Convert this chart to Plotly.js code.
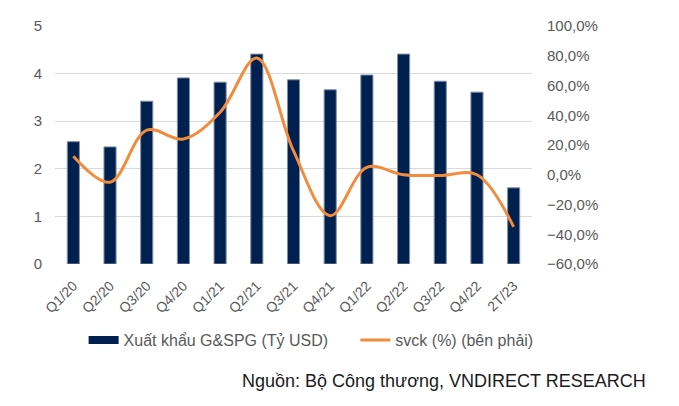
<!DOCTYPE html>
<html>
<head>
<meta charset="utf-8">
<script src="https://cdn.plot.ly/plotly-3.0.1.min.js"></script>
<style>
  html, body { margin: 0; padding: 0; background: #fff; }
  #chart { width: 679px; height: 406px; }
</style>
</head>
<body>
<div id="chart"></div>
<script>
const quarters = ['Q1/20', 'Q2/20', 'Q3/20', 'Q4/20', 'Q1/21', 'Q2/21', 'Q3/21', 'Q4/21', 'Q1/22', 'Q2/22', 'Q3/22', 'Q4/22', '2T/23'];
const exportsBn = [2.57, 2.46, 3.42, 3.91, 3.82, 4.41, 3.87, 3.66, 3.97, 4.41, 3.84, 3.61, 1.60];
const yoyPct = [12.5, -5, 30, 24, 42, 78.5, 16, -27.5, 5, 0, -0.5, 0, -35];

const fontFamily = 'Liberation Sans, Arial, sans-serif';
const axisFont = { family: fontFamily, size: 15, color: '#595959' };
const barColor = '#002050';
const lineColor = '#f28c3c';

Plotly.newPlot(
  'chart',
  [
    {
      type: 'bar',
      x: quarters,
      y: exportsBn,
      name: 'Xuất khẩu G&SPG (Tỷ USD)',
      marker: { color: barColor, line: { color: '#7f8fa6', width: 1 } },
      width: 0.33,
      showlegend: false,
    },
    // legend-only entry so the bar key is drawn as a wide block, like the original
    {
      type: 'scatter',
      mode: 'lines',
      x: [null],
      y: [null],
      name: 'Xuất khẩu G&SPG (Tỷ USD)\u00a0\u00a0\u00a0\u00a0\u00a0',
      line: { color: barColor, width: 8 },
    },
    {
      type: 'scatter',
      mode: 'lines',
      x: quarters,
      y: yoyPct,
      yaxis: 'y2',
      name: 'svck (%) (bên phải)',
      line: { color: lineColor, width: 3, shape: 'spline', smoothing: 1 },
    },
  ],
  {
    width: 679,
    height: 406,
    margin: { t: 26, r: 147, b: 142, l: 55 },
    paper_bgcolor: '#fff',
    plot_bgcolor: '#fff',
    separators: ',.',
    font: axisFont,
    showlegend: true,
    xaxis: {
      type: 'category',
      tickangle: -45,
      tickfont: { family: fontFamily, size: 14, color: '#595959' },
      showgrid: false,
      showline: false,
      ticks: '',
      ticklabelstandoff: 10,
    },
    yaxis: {
      range: [0, 5],
      dtick: 1,
      showgrid: true,
      gridcolor: '#d9d9d9',
      gridwidth: 1,
      zeroline: false,
      ticks: '',
      tickfont: axisFont,
      ticklabelstandoff: 12,
    },
    yaxis2: {
      overlaying: 'y',
      side: 'right',
      range: [-60, 100],
      dtick: 20,
      tickformat: '.1f',
      ticksuffix: '%',
      showgrid: false,
      zeroline: false,
      ticks: '',
      tickfont: axisFont,
      ticklabelstandoff: 14,
    },
    legend: {
      orientation: 'h',
      x: 0.06,
      y: -0.32,
      xanchor: 'left',
      yanchor: 'middle',
      bgcolor: 'rgba(0,0,0,0)',
      font: { family: fontFamily, size: 16, color: '#595959' },
    },
    annotations: [
      {
        text: 'Nguồn: Bộ Công thương, VNDIRECT RESEARCH',
        xref: 'paper',
        yref: 'paper',
        x: 1.243,
        y: -0.49,
        xanchor: 'right',
        yanchor: 'middle',
        showarrow: false,
        font: { family: fontFamily, size: 18, color: '#1a1a1a' },
      },
    ],
  },
  { displayModeBar: false }
);
</script>
</body>
</html>
